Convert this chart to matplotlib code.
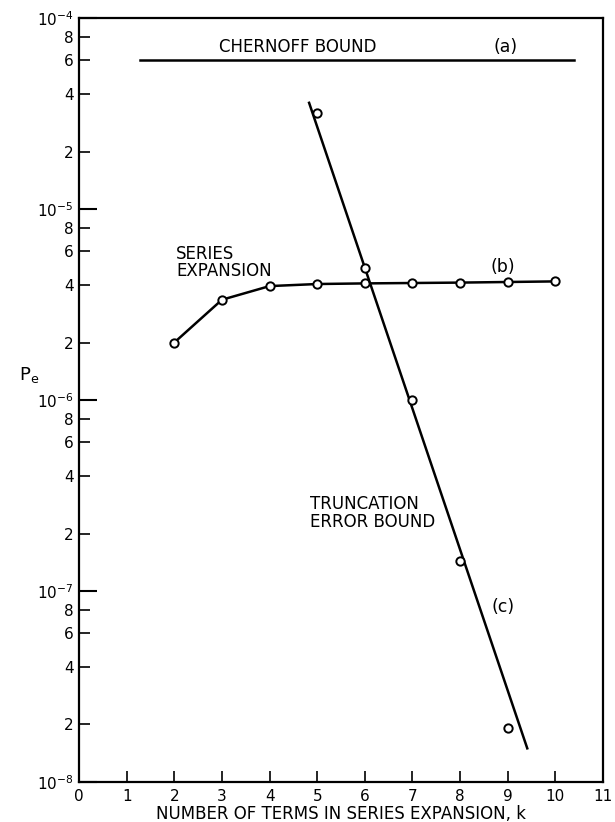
import numpy as np
import matplotlib.pyplot as plt
from matplotlib.ticker import FixedLocator, FixedFormatter

plt.rcParams['font.family'] = ['DejaVu Sans']

# (a) Chernoff bound
k_chernoff = [1.28, 10.4]
pe_chernoff = [6.0e-5, 6.0e-5]

# (b) series expansion
k_series = [2, 3, 4, 5, 6, 7, 8, 9, 10]
pe_series = [2.0e-6, 3.35e-6, 3.95e-6, 4.05e-6, 4.08e-6, 4.1e-6, 4.12e-6, 4.15e-6, 4.18e-6]

# (c) truncation error bound: fitted line and computed points
k_trunc_line = [4.83, 9.41]
pe_trunc_line = [3.6e-5, 1.5e-8]
k_trunc = [5, 6, 7, 8, 9]
pe_trunc = [3.2e-5, 4.9e-6, 1.0e-6, 1.44e-7, 1.92e-8]

fig = plt.figure(figsize=(6.15, 8.22), dpi=100)
ax = fig.add_axes([0.1285, 0.0487, 0.852, 0.9293])

ax.plot(k_chernoff, pe_chernoff, color='black', lw=1.8)
ax.plot(k_series, pe_series, color='black', lw=1.8, marker='o', ms=6,
        mfc='white', mec='black', mew=1.4)
ax.plot(k_trunc_line, pe_trunc_line, color='black', lw=1.8)
ax.plot(k_trunc, pe_trunc, ls='none', marker='o', ms=6,
        mfc='white', mec='black', mew=1.4)

ax.set_yscale('log')
ax.set_ylim(1e-8, 1e-4)
ax.set_xlim(0, 11)

# y ticks
major_y = [1e-8, 1e-7, 1e-6, 1e-5, 1e-4]
ax.yaxis.set_major_locator(FixedLocator(major_y))
ax.yaxis.set_major_formatter(FixedFormatter([r'$10^{-8}$', r'$10^{-7}$', r'$10^{-6}$',
                                             r'$10^{-5}$', r'$10^{-4}$']))
minor_y = []
minor_lab = []
for dec in [1e-8, 1e-7, 1e-6, 1e-5]:
    for m in [2, 4, 6, 8]:
        minor_y.append(m * dec)
        minor_lab.append(str(m))
ax.yaxis.set_minor_locator(FixedLocator(minor_y))
ax.yaxis.set_minor_formatter(FixedFormatter(minor_lab))
ax.tick_params(axis='y', which='major', direction='in', length=13, width=1.5,
               labelsize=11, pad=4)
ax.tick_params(axis='y', which='minor', direction='in', length=8, width=1.2,
               labelsize=11, pad=4)

ax.set_xticks(range(0, 12))
ax.tick_params(axis='x', which='major', direction='in', length=8, width=1.2,
               labelsize=11, pad=5)
ax.tick_params(axis='x', which='minor', bottom=False)

for s in ax.spines.values():
    s.set_linewidth(1.6)

ax.set_xlabel('NUMBER OF TERMS IN SERIES EXPANSION, k', fontsize=12, labelpad=1)
ax.set_ylabel(r'P$_\mathrm{e}$', fontsize=13, rotation=0, labelpad=14)
ax.yaxis.set_label_coords(-0.095, 0.52)

ax.text(4.6, 7.05e-5, 'CHERNOFF BOUND', fontsize=12, ha='center', va='center')
ax.text(8.95, 7.05e-5, '(a)', fontsize=12.5, ha='center', va='center')
ax.text(2.04, 5.25e-6, 'SERIES\nEXPANSION', fontsize=12, ha='left', va='center',
        linespacing=0.95)
ax.text(8.9, 5.0e-6, '(b)', fontsize=12.5, ha='center', va='center')
ax.text(4.85, 2.56e-7, 'TRUNCATION\nERROR BOUND', fontsize=12, ha='left',
        va='center', linespacing=0.95)
ax.text(8.9, 8.2e-8, '(c)', fontsize=12.5, ha='center', va='center')

fig.savefig('out.png', dpi=100)
